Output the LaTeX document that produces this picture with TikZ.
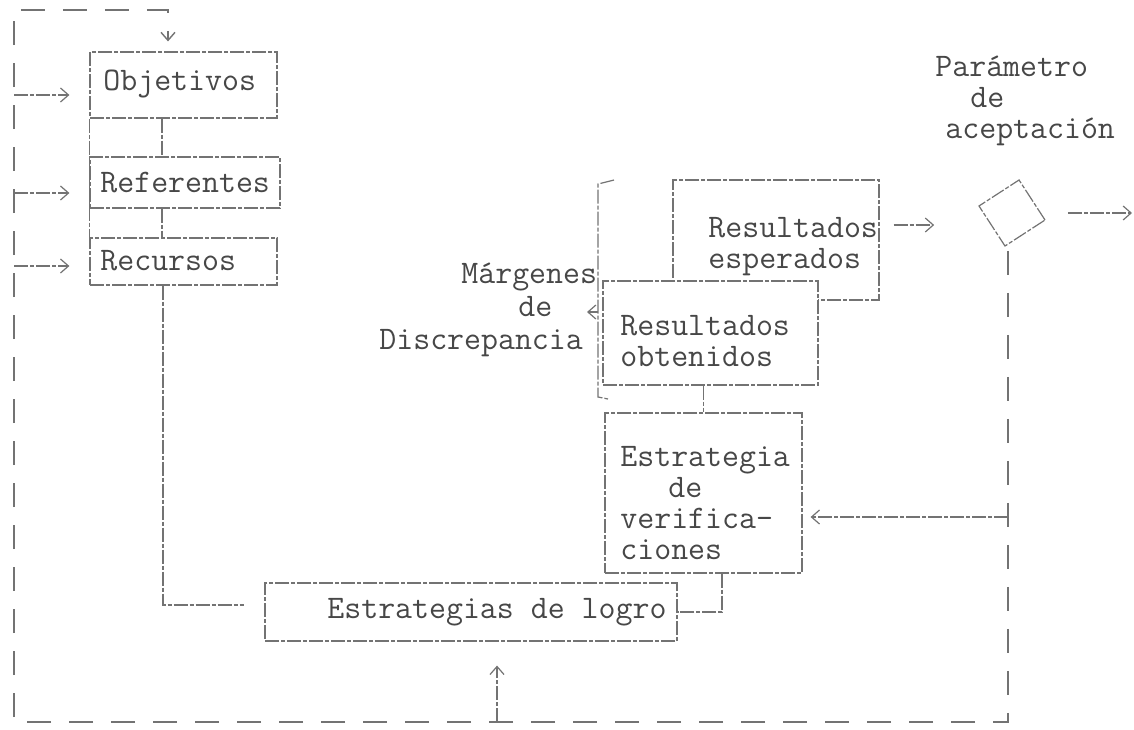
\documentclass[tikz,border=0pt]{standalone}
\usepackage{fontspec}
\usetikzlibrary{arrows.meta,shapes.geometric,calc}
\newcommand\mytt[1]{\ttfamily\fontsize{16.46pt}{#1}\selectfont}
\begin{document}
\begin{tikzpicture}[x=0.5pt,y=-0.5pt,
  ln/.style={draw=black!55,line width=0.6pt,dash pattern=on 7pt off 1pt on 2pt off 1pt},
  boxst/.style={ln,rectangle,inner sep=0pt,fill=white},
  lp/.style={draw=black!55,line width=0.7pt,dash pattern=on 12pt off 9pt},
  arr/.style={-{Straight Barb[length=4pt,width=7pt]}},
  txt/.style={font=\mytt{16pt},text=black!72,inner sep=0pt,anchor=west,align=left}]
\useasboundingbox (0,0) rectangle (1134,729);

% boxes
\node[boxst,minimum width=93.5pt,minimum height=33pt] (obj) at (183.5,85) {};
\node[boxst,minimum width=95pt,minimum height=25.5pt] (ref) at (185,182.5) {};
\node[boxst,minimum width=93.5pt,minimum height=23.5pt] (rec) at (183.5,261.5) {};
\node[boxst,minimum width=103pt,minimum height=60pt] (esp) at (776,240) {};
\node[boxst,minimum width=107.5pt,minimum height=52pt] (obt) at (710.5,333) {};
\node[boxst,minimum width=98.5pt,minimum height=80pt] (ver) at (703.5,493) {};
\node[boxst,minimum width=206pt,minimum height=29pt] (log) at (471,612) {};
\node[ln,diamond,minimum width=34pt,minimum height=34pt,inner sep=0pt,rotate=-12] (dia) at (1012,213) {};

% texts
\node[txt] (objt) at (103,84) {Objetivos};
\node[txt] (reft) at (100,183) {Referentes};
\node[txt] (rect) at (100,261) {Recursos};
\node[txt,font=\mytt{15.5pt}] (espt) at (708,247) {Resultados\\esperados};
\node[txt,font=\mytt{15.5pt}] (obtt) at (620,341) {Resultados\\obtenidos};
\node[txt,font=\mytt{15.5pt}] (vert) at (620,503.5) {Estrategia\\\hspace*{24pt}de\\verifica-\\ciones};
\node[txt] (logt) at (327,612) {Estrategias de logro};
\node[txt,font=\mytt{15.5pt}] (part) at (935,101) {Parámetro\\\hspace*{17.5pt}de\\\hspace*{5pt}aceptación};
\node[txt,font=\mytt{16.5pt}] (mart) at (379,310) {\hspace*{41pt}Márgenes\\\hspace*{69.5pt}de\\Discrepancia};

% bracket round the results
\draw[ln] (614,180) -- (598,184) -- (598,397) -- (608,399);
\coordinate (bk) at (598,312);
\draw[ln,arr] (bk) -- ++(-11,0);

% connectors between boxes
\draw[ln] (obj.south -| 162,0) -- (ref.north -| 162,0);
\draw[ln] (ref.south -| 162,0) -- (rec.north -| 162,0);
\draw[ln] (obj.south west) -- (rec.north west);
\coordinate (rc) at (163,605);
\draw[ln,shorten >=10pt] (rec.south -| rc) -- (rc) -- (log.west |- rc);
\draw[ln] (obt.south -| ver.north) -- (ver.north);
\coordinate (vl) at (722,612);
\draw[ln] (ver.south -| vl) -- (vl) -- (log.east |- vl);
\draw[ln,arr,shorten <=7pt,shorten >=22pt] (esp.east |- 0,225) -- (dia.west |- 0,225);
\coordinate (out) at (1132,213);
\draw[ln,arr,shorten <=11pt] (dia.east |- out) -- (out);

% feedback loop
\coordinate (br) at (1008,722);
\coordinate (bl) at (14,722);
\coordinate (tl) at (14,10);
\coordinate (tr) at (168,10);
\draw[lp,arr,shorten <=2pt,shorten >=5pt] (dia.south -| br) -- (br) -- (bl) -- (tl) -- (tr) -- (tr |- obj.north);
\coordinate (vj) at (1008,517);
\draw[ln,arr,shorten >=4pt] (vj) -- (ver.east |- vj);
\coordinate (lj) at (497,722);
\draw[ln,arr,shorten >=12pt] (lj) -- (log.south -| lj);
\coordinate (a1) at (14,95);
\coordinate (a2) at (14,193);
\coordinate (a3) at (14,266);
\draw[ln,arr,shorten >=10pt] (a1) -- (obj.west |- a1);
\draw[ln,arr,shorten >=10pt] (a2) -- (ref.west |- a2);
\draw[ln,arr,shorten >=10pt] (a3) -- (rec.west |- a3);
\end{tikzpicture}
\end{document}
